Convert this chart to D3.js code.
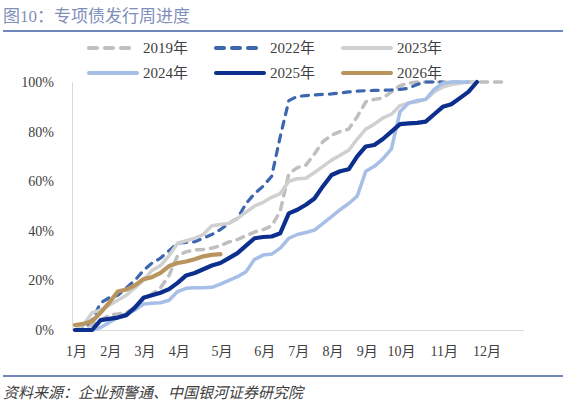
<!DOCTYPE html>
<html>
<head>
<meta charset="utf-8">
<script src="https://cdn.jsdelivr.net/npm/d3@7"></script>
<style>
  html, body { margin: 0; padding: 0; background: #fff; }
  svg { display: block; }
  text { font-family: "Liberation Serif", "Noto Sans CJK SC", serif; }
</style>
</head>
<body>
<div id="chart"></div>
<script>
// ---- data ----
const monthLabels = ["1月","2月","3月","4月","5月","6月","7月","8月","9月","10月","11月","12月"];
const monthWeeks  = [0, 4, 8, 12, 17, 22, 26, 30, 34, 38, 43, 48];
const yTicks = [0, 20, 40, 60, 80, 100];
const seriesNames = ["2019年","2022年","2023年","2024年","2025年","2026年"];

const s2019 = [0,1,2,4,6,6.5,7,9,12.5,14.5,17,22,30,31.5,32.3,32.5,33,34,35.5,36.5,38,39.5,40.5,42,48,63,65.5,66.5,71,76,78.5,80,81,86,92,93,93.5,96,98.5,99.5,100,100,100,100,100,100,100,100,100,100,100];
const s2022 = [0,1,4,11,13,14,17,20,24,27,29,32,35,35.3,35.6,37,38.5,40.5,43,45,51,55,58,62,78,92.5,94.2,94.5,94.8,95,95.2,95.6,96,96.3,96.5,96.6,96.7,96.8,97,97.5,99,100,100,100];
const s2023 = [0,2,7,8,10,12,14,17,20,24,26,30,35,36,37,38.5,42,42.5,43,45,47.5,50,51.5,53.5,55,60,61,61.2,63.5,66,68.5,70.5,72.5,77,81,83,85.5,87,90.5,91.5,92,93,96,98,99,99.5,100,100];
const s2024 = [0,0,0,1,3,5,6.5,8,10.5,10.8,11,12,15.5,16.8,17,17,17.2,18.5,20,21.5,23.5,28.5,30.2,30.6,33,37,38.5,39.3,40.3,43,45.7,48.5,51,54,64,66,69,73,88,91.5,92.5,93,97,99.5,100,100,100];
const s2025 = [0,0,0,4,4.5,5,6,9,13,14,15,16.5,19,22,23,24.5,26,27,29,31,34,37,37.5,37.7,39,47,48.5,50.5,53,58,62.5,64,64.8,70,74,74.6,77,80,83,83.3,83.5,84,87,90,91,93.5,96,100];
const s2026 = [2,2.5,3.5,7,11,15.5,16.3,18,20.5,21.3,23,25.8,27,27.6,28.5,29.7,30.3,30.6];

const seriesValues = [s2019, s2022, s2023, s2024, s2025, s2026];
const seriesStyle = [
  {color: "#BFBFBF", width: 3.5, dash: "7,7", cap: "round"},
  {color: "#3C66AF", width: 3.2, dash: "7,7", cap: "round"},
  {color: "#D0D0D0", width: 3.5, dash: null, cap: "round"},
  {color: "#A7BEE7", width: 3.5, dash: null, cap: "round"},
  {color: "#0C2F8E", width: 4.2, dash: null, cap: "round"},
  {color: "#B8955F", width: 4.2, dash: null, cap: "round"}
];

// ---- layout ----
const W = 566, H = 407;
const svg = d3.select("#chart").append("svg").attr("width", W).attr("height", H);

const x = d3.scaleLinear().domain([0, 52.5]).range([75, 524]);
const y = d3.scaleLinear().domain([0, 100]).range([330, 82]);

// Title
svg.append("text").attr("x", 3).attr("y", 22)
  .attr("font-size", 17).attr("fill", "#7F8FB9")
  .text("图10：专项债发行周进度");
svg.append("line").attr("x1", 3).attr("x2", 563).attr("y1", 31).attr("y2", 31)
  .attr("stroke", "#6F87B9").attr("stroke-width", 2);

// Axes lines
svg.append("line").attr("x1", 72.5).attr("x2", 72.5).attr("y1", y(100)).attr("y2", y(0))
  .attr("stroke", "#D9D9D9").attr("stroke-width", 1);
svg.append("line").attr("x1", 72.5).attr("x2", x(52.5)).attr("y1", y(0)+0.5).attr("y2", y(0)+0.5)
  .attr("stroke", "#D9D9D9").attr("stroke-width", 1.2);

// Y axis labels
const yAxis = d3.axisLeft(y).tickValues(yTicks).tickFormat(d => d + "%").tickSize(0).tickPadding(0);
const gy = svg.append("g").attr("transform", "translate(54,0)").call(yAxis);
gy.select(".domain").remove();
gy.selectAll("text").attr("font-size", 14).attr("fill", "#404040")
  .attr("font-family", "Liberation Serif, serif");

// X axis labels
const xAxis = d3.axisBottom(x).tickValues(monthWeeks)
  .tickFormat((d, i) => monthLabels[i]).tickSize(0).tickPadding(0);
const gx = svg.append("g").attr("transform", "translate(1,346)").call(xAxis);
gx.select(".domain").remove();
gx.selectAll("text").attr("font-size", 14).attr("fill", "#404040")
  .attr("font-family", "Liberation Serif, Noto Sans CJK SC, serif");

// Lines
const line = d3.line().x((d, i) => x(i)).y(d => y(d)).curve(d3.curveLinear);
seriesValues.forEach((vals, k) => {
  const st = seriesStyle[k];
  const p = svg.append("path").datum(vals).attr("d", line)
    .attr("fill", "none").attr("stroke", st.color).attr("stroke-width", st.width)
    .attr("stroke-linejoin", "round").attr("stroke-linecap", st.cap);
  if (st.dash) p.attr("stroke-dasharray", st.dash);
});

// Legend
const legX = [87, 214, 341];
const legY = [48, 73];
seriesNames.forEach((name, k) => {
  const st = seriesStyle[k];
  const lx = legX[k % 3], ly = legY[Math.floor(k / 3)];
  const l = svg.append("line").attr("x1", lx + 2).attr("x2", lx + 50).attr("y1", ly).attr("y2", ly)
    .attr("stroke", st.color).attr("stroke-width", 4).attr("stroke-linecap", "round");
  if (st.dash) l.attr("stroke-dasharray", "8,8");
  svg.append("text").attr("x", lx + 56).attr("y", ly + 5)
    .attr("font-size", 15).attr("fill", "#404040").text(name);
});

// Footer
svg.append("line").attr("x1", 3).attr("x2", 563).attr("y1", 376).attr("y2", 376)
  .attr("stroke", "#6F87B9").attr("stroke-width", 2);
svg.append("text").attr("x", 3).attr("y", 398)
  .attr("font-size", 15).attr("font-style", "italic").attr("fill", "#404040")
  .text("资料来源：企业预警通、中国银河证券研究院");
</script>
</body>
</html>
